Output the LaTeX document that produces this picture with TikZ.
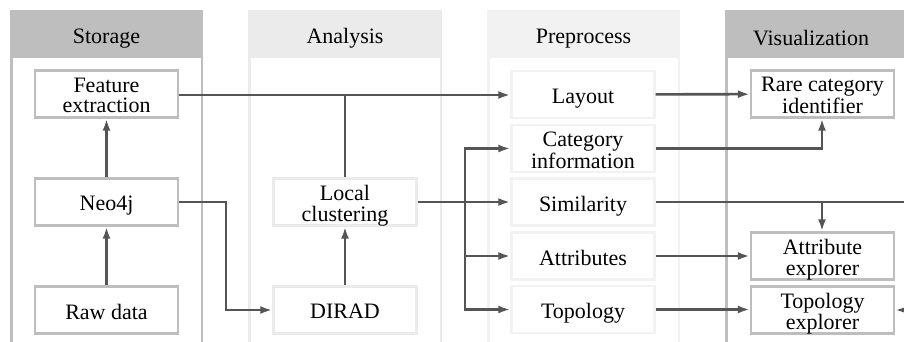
\documentclass[tikz,border=0pt]{standalone}
\usepackage{fontspec}
\setmainfont{Liberation Serif}
\usetikzlibrary{arrows.meta}
\definecolor{hdark}{HTML}{BEBEBE}
\definecolor{hmid}{HTML}{EBEBEB}
\definecolor{hlight}{HTML}{F2F2F2}
\definecolor{lin}{HTML}{555555}
\newcommand\lbl[1]{\raisebox{-4.5pt}[\height][\depth]{\begin{tabular}{@{}c@{}}#1\end{tabular}}}
\begin{document}
\begin{tikzpicture}[x=1pt,y=-1pt,
  txt/.style={font=\fontsize{22}{20}\selectfont},
  box/.style={draw=#1,line width=2.4pt,fill=white,minimum width=143pt,minimum height=47pt,inner sep=0pt,txt},
  conn/.style={draw=lin,line width=2.6pt},
  arr/.style={conn,-{Latex[length=12pt,width=8pt]}}]
\useasboundingbox (0,0) rectangle (904,341);
% columns
\foreach \xa/\xb/\c in {10/203/hdark,248/442/hmid,487/680/hlight,725/920/hdark}{
  \fill[\c] (\xa,10) rectangle (\xb,350);
  \fill[white] (\xa+2.5,58) rectangle (\xb-2.5,350);
}
\node[txt] (hs) at (106.5,38.5) {Storage};
\node[txt] (ha) at (345,38.5) {Analysis};
\node[txt] (hp) at (583.5,38.5) {Preprocess};
\node[txt] (hv) at (811,38.5) {Visualization};
% nodes
\node[box=hdark] (fe) at (106.5,94) {\lbl{Feature\\extraction}};
\node[box=hdark] (neo) at (106.5,202) {\lbl{Neo4j}};
\node[box=hdark] (raw) at (106.5,310) {\lbl{Raw data}};
\node[box=hmid] (lc) at (345,202) {\lbl{Local\\clustering}};
\node[box=hmid] (dir) at (345,310) {\lbl{DIRAD}};
\node[box=hlight] (lay) at (583,94.5) {\lbl{Layout}};
\node[box=hlight] (cat) at (583,148.5) {\lbl{Category\\information}};
\node[box=hlight] (sim) at (583,202) {\lbl{Similarity}};
\node[box=hlight] (att) at (583,256) {\lbl{Attributes}};
\node[box=hlight] (top) at (583,309.5) {\lbl{Topology}};
\node[box=hdark] (rci) at (822.5,94) {\lbl{Rare category\\identifier}};
\node[box=hdark] (ae) at (822.5,256) {\lbl{Attribute\\explorer}};
\node[box=hdark] (te) at (822.5,310) {\lbl{Topology\\explorer}};
% coordinates
\coordinate (j1) at (345,95);
\coordinate (n1) at (226,202);
\coordinate (n2) at (226,310);
\coordinate (b1) at (465,202);
\coordinate (c1) at (822,148.5);
\coordinate (s1) at (822,202);
\coordinate (s2) at (904,202);
\coordinate (r1) at (904,310);
% connectors
\draw[arr] (raw) -- (neo);
\draw[arr] (neo) -- (fe);
\draw[arr] (fe.east |- j1) -- (lay.west |- j1);
\draw[conn] (lc.north) -- (j1);
\draw[arr] (dir) -- (lc);
\draw[arr] (neo.east) -- (n1) -- (n2) -- (dir.west);
\draw[arr] (lc.east) -- (sim.west);
\draw[arr] (b1) |- (cat.west);
\draw[arr] (b1) |- (att.west);
\draw[arr] (b1) |- (top.west);
\draw[arr] (lay) -- (rci);
\draw[arr] (cat.east) -- (c1) -- (rci.south -| c1);
\draw[conn] (sim.east) -- (s2);
\draw[arr] (s1) -- (ae.north -| s1);
\draw[arr] (att) -- (ae);
\draw[arr] (top.east) -- (te.west |- top.east);
\draw[arr] (r1) -- (te.east |- r1);
\end{tikzpicture}
\end{document}
